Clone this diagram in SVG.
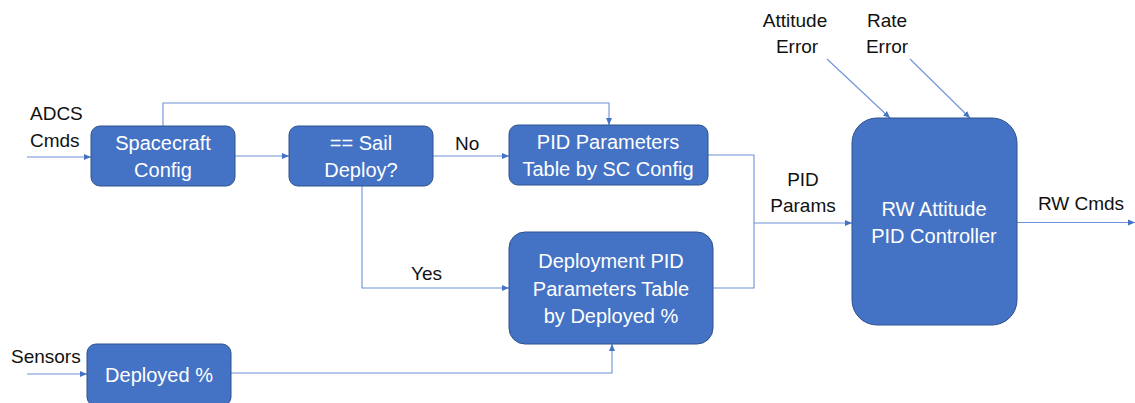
<svg xmlns="http://www.w3.org/2000/svg" width="1135" height="403" viewBox="0 0 1135 403">
<style>
.box{fill:#4472C4;stroke:#2F528F;stroke-width:1}
.bt{font-family:"Liberation Sans",Arial,sans-serif;font-size:20px;fill:#FFFFFF;text-anchor:middle}
.lb{font-family:"Liberation Sans",Arial,sans-serif;font-size:19px;fill:#111111}
.ln{fill:none;stroke:#6E93D6;stroke-width:1.1}
</style>
<defs>
<marker id="ah" markerUnits="userSpaceOnUse" markerWidth="8" markerHeight="8" refX="7" refY="4" orient="auto">
<path d="M0,1 L7,4 L0,7 z" fill="#4472C4"/>
</marker>
</defs>
<rect width="1135" height="403" fill="#FFFFFF"/>
<g id="connectors">
<path class="ln" d="M27,157 H91" marker-end="url(#ah)"/>
<path class="ln" d="M235,156 H289" marker-end="url(#ah)"/>
<path class="ln" d="M163,126 V103 H609 V125" marker-end="url(#ah)"/>
<path class="ln" d="M433,156 H509" marker-end="url(#ah)"/>
<path class="ln" d="M362,186 V288 H509" marker-end="url(#ah)"/>
<path class="ln" d="M708,155 H754 V223 H852" marker-end="url(#ah)"/>
<path class="ln" d="M713,288 H754 V223"/>
<path class="ln" d="M27,374 H87" marker-end="url(#ah)"/>
<path class="ln" d="M231,373 H612 V344" marker-end="url(#ah)"/>
<path class="ln" d="M827,59 L890,118" marker-end="url(#ah)"/>
<path class="ln" d="M910,59 L970,118" marker-end="url(#ah)"/>
<path class="ln" d="M1017,222.5 H1135" marker-end="url(#ah)"/>
</g>
<g id="labels">
<text class="lb" x="30" y="120">ADCS</text>
<text class="lb" x="30" y="147">Cmds</text>
<text class="lb" x="455" y="150">No</text>
<text class="lb" x="411" y="280">Yes</text>
<text class="lb" x="11" y="363">Sensors</text>
<text class="lb" x="803" y="186" text-anchor="middle">PID</text>
<text class="lb" x="803" y="212" text-anchor="middle">Params</text>
<text class="lb" x="1081" y="210" text-anchor="middle">RW Cmds</text>
<text class="lb" x="795" y="27" text-anchor="middle">Attitude</text>
<text class="lb" x="797" y="53" text-anchor="middle">Error</text>
<text class="lb" x="887" y="27" text-anchor="middle">Rate</text>
<text class="lb" x="887" y="53" text-anchor="middle">Error</text>
</g>
<g id="spacecraft-config">
<rect class="box" x="91" y="126" width="144" height="60" rx="9"/>
<text class="bt" x="163" y="150">Spacecraft</text>
<text class="bt" x="163" y="177">Config</text>
</g>
<g id="sail-deploy">
<rect class="box" x="289" y="126" width="144" height="60" rx="9"/>
<text class="bt" x="361" y="150">== Sail</text>
<text class="bt" x="361" y="177">Deploy?</text>
</g>
<g id="pid-table-sc">
<rect class="box" x="509" y="125" width="199" height="60" rx="9"/>
<text class="bt" x="608" y="149">PID Parameters</text>
<text class="bt" x="608" y="176">Table by SC Config</text>
</g>
<g id="deployment-pid-table">
<rect class="box" x="509" y="232" width="204" height="112" rx="16"/>
<text class="bt" x="611" y="268">Deployment PID</text>
<text class="bt" x="611" y="296">Parameters Table</text>
<text class="bt" x="611" y="323">by Deployed %</text>
</g>
<g id="deployed-pct">
<rect class="box" x="87" y="344" width="144" height="62" rx="9"/>
<text class="bt" x="159" y="382">Deployed %</text>
</g>
<g id="rw-controller">
<rect class="box" x="852" y="118" width="165" height="207" rx="25"/>
<text class="bt" x="934" y="216">RW Attitude</text>
<text class="bt" x="934" y="243">PID Controller</text>
</g>
</svg>
